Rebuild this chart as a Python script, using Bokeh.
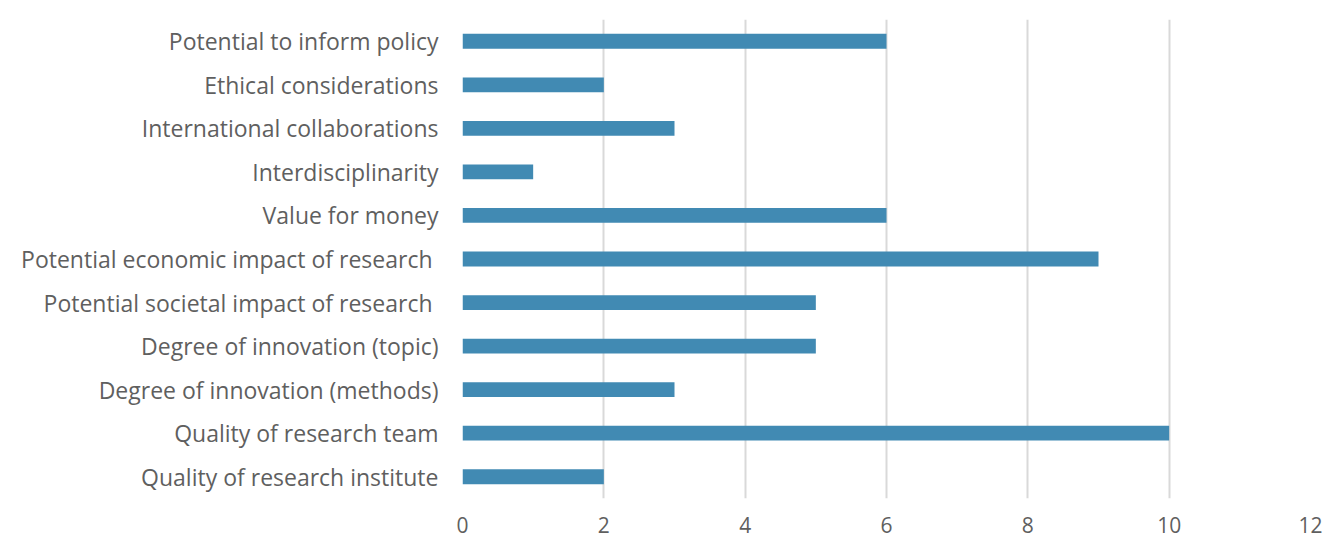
from bokeh.plotting import figure
from bokeh.models import FixedTicker, Range1d
from bokeh.embed import file_html
from bokeh.resources import INLINE

categories = [
    "Potential to inform policy",
    "Ethical considerations",
    "International collaborations",
    "Interdisciplinarity",
    "Value for money",
    "Potential economic impact of research ",
    "Potential societal impact of research ",
    "Degree of innovation (topic)",
    "Degree of innovation (methods)",
    "Quality of research team",
    "Quality of research institute",
]
values = [6, 2, 3, 1, 6, 9, 5, 5, 3, 10, 2]
x_ticks = [0, 2, 4, 6, 8, 10, 12]

FONT = "Open Sans"
GREY = "#5F5F5F"

p = figure(
    width=1326, height=539,
    y_range=list(reversed(categories)),
    x_range=Range1d(0, 12),
    output_backend="svg", toolbar_location=None,
    min_border_left=462, min_border_right=16,
    min_border_top=19, min_border_bottom=41,
)
p.hbar(y=categories, right=values, left=0, height=0.34, color="#418AB3", line_color=None)

p.outline_line_color = None
p.ygrid.grid_line_color = None
p.xgrid.grid_line_color = "#D9D9D9"
p.xgrid.grid_line_width = 2
p.xaxis.ticker = FixedTicker(ticks=x_ticks)
for ax in (p.xaxis[0], p.yaxis[0]):
    ax.axis_line_color = None
    ax.major_tick_line_color = None
    ax.minor_tick_line_color = None
    ax.major_label_text_font = FONT
    ax.major_label_text_color = GREY
p.yaxis.major_label_text_font_size = "23px"
p.xaxis.major_label_text_font_size = "21px"
p.xaxis.major_label_standoff = 12
p.yaxis.major_label_standoff = 18

open("out.html", "w").write(file_html(p, INLINE))
